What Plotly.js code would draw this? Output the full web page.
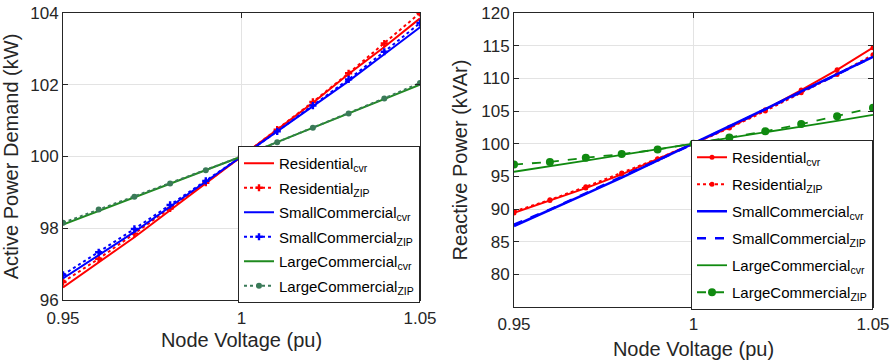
<!DOCTYPE html>
<html>
<head>
<meta charset="utf-8">
<script src="https://cdn.plot.ly/plotly-3.0.1.min.js"></script>
<style>html,body{margin:0;padding:0;background:#fff;}#chart{width:895px;height:360px;}</style>
</head>
<body>
<div id="chart"></div>
<script>
// Node voltage (pu)
const voltage = [0.95, 0.96, 0.97, 0.98, 0.99, 1.00, 1.01, 1.02, 1.03, 1.04, 1.05];

// Active power demand (kW)
const pResCvr   = [96.35, 97.05, 97.75, 98.50, 99.25, 100, 100.75, 101.50, 102.30, 103.05, 103.85];
const pResZip   = [96.50, 97.15, 97.85, 98.55, 99.27, 100, 100.75, 101.52, 102.32, 103.15, 104.00];
const pSmallCvr = [96.60, 97.25, 97.90, 98.60, 99.30, 100, 100.70, 101.40, 102.10, 102.85, 103.60];
const pSmallZip = [96.70, 97.33, 97.98, 98.65, 99.32, 100, 100.70, 101.42, 102.15, 102.92, 103.72];
const pLargeCvr = [98.10, 98.48, 98.85, 99.23, 99.60, 100, 100.40, 100.80, 101.20, 101.60, 102.00];
const pLargeZip = [98.15, 98.52, 98.88, 99.25, 99.62, 100, 100.40, 100.80, 101.20, 101.62, 102.05];

// Reactive power (kVAr)
const qResCvr   = [89.4, 91.3, 93.2, 95.3, 97.6, 100, 102.5, 105.2, 108.2, 111.3, 114.7];
const qResZip   = [89.6, 91.4, 93.4, 95.5, 97.7, 100, 102.4, 105.0, 107.8, 110.6, 113.6];
const qSmallCvr = [87.4, 89.8, 92.3, 94.8, 97.4, 100, 102.6, 105.3, 108.0, 110.6, 113.3];
const qSmallZip = [87.6, 89.9, 92.4, 94.9, 97.4, 100, 102.6, 105.2, 107.9, 110.6, 113.3];
const qLargeCvr = [95.7, 96.5, 97.4, 98.3, 99.1, 100, 100.9, 101.7, 102.6, 103.5, 104.4];
const qLargeZip = [96.8, 97.2, 97.85, 98.4, 99.1, 100, 100.95, 101.9, 103.0, 104.2, 105.5];

const names = [
  'Residential<sub>cvr</sub>', 'Residential<sub>ZIP</sub>',
  'SmallCommercial<sub>cvr</sub>', 'SmallCommercial<sub>ZIP</sub>',
  'LargeCommercial<sub>cvr</sub>', 'LargeCommercial<sub>ZIP</sub>'
];

const RED = '#ff0000', BLUE = '#0000ff', GREEN = '#1f8a1f', GRAYGREEN = '#3a7a58', DGREEN = '#108a10';
const FONT = 'Liberation Sans, Arial, Helvetica, sans-serif';
const INK = '#262626';

const traces = [
  {x: voltage, y: pResCvr, name: names[0], legendgroup: 'a1', mode: 'lines', line: {color: RED, width: 2}, xaxis: 'x', yaxis: 'y', legend: 'legend'},
  {x: voltage, y: pResZip, name: names[1], legendgroup: 'a2', mode: 'lines+markers', line: {color: RED, width: 2, dash: 'dot'}, marker: {symbol: 'cross', size: 6, color: RED}, xaxis: 'x', yaxis: 'y', legend: 'legend'},
  {x: voltage, y: pSmallCvr, name: names[2], legendgroup: 'a3', mode: 'lines', line: {color: BLUE, width: 2}, xaxis: 'x', yaxis: 'y', legend: 'legend'},
  {x: voltage, y: pSmallZip, name: names[3], legendgroup: 'a4', mode: 'lines+markers', line: {color: BLUE, width: 2, dash: 'dot'}, marker: {symbol: 'cross', size: 6, color: BLUE}, xaxis: 'x', yaxis: 'y', legend: 'legend'},
  {x: voltage, y: pLargeCvr, name: names[4], legendgroup: 'a5', mode: 'lines', line: {color: GREEN, width: 2}, xaxis: 'x', yaxis: 'y', legend: 'legend'},
  {x: voltage, y: pLargeZip, name: names[5], legendgroup: 'a6', mode: 'lines+markers', line: {color: GRAYGREEN, width: 2, dash: 'dot'}, marker: {symbol: 'circle', size: 6, color: GRAYGREEN}, xaxis: 'x', yaxis: 'y', legend: 'legend'},

  {x: voltage, y: qResCvr, name: names[0], legendgroup: 'b1', mode: 'lines+markers', line: {color: RED, width: 2}, marker: {symbol: 'circle', size: 5, color: RED}, xaxis: 'x2', yaxis: 'y2', legend: 'legend2'},
  {x: voltage, y: qResZip, name: names[1], legendgroup: 'b2', mode: 'lines+markers', line: {color: RED, width: 2, dash: 'dot'}, marker: {symbol: 'circle', size: 5, color: RED}, xaxis: 'x2', yaxis: 'y2', legend: 'legend2'},
  {x: voltage, y: qSmallCvr, name: names[2], legendgroup: 'b3', mode: 'lines', line: {color: BLUE, width: 2.5}, xaxis: 'x2', yaxis: 'y2', legend: 'legend2'},
  {x: voltage, y: qSmallZip, name: names[3], legendgroup: 'b4', mode: 'lines', line: {color: BLUE, width: 2.5, dash: 'dash'}, xaxis: 'x2', yaxis: 'y2', legend: 'legend2'},
  {x: voltage, y: qLargeCvr, name: names[4], legendgroup: 'b5', mode: 'lines', line: {color: DGREEN, width: 1.8}, xaxis: 'x2', yaxis: 'y2', legend: 'legend2'},
  {x: voltage, y: qLargeZip, name: names[5], legendgroup: 'b6', mode: 'lines+markers', line: {color: DGREEN, width: 1.8, dash: 'dash'}, marker: {symbol: 'circle', size: 8, color: DGREEN}, xaxis: 'x2', yaxis: 'y2', legend: 'legend2'}
];

const axisCommon = {
  showline: true, linecolor: INK, linewidth: 1, mirror: 'ticks',
  ticks: 'inside', ticklen: 5, tickcolor: INK,
  showgrid: true, gridcolor: '#e3e3e3', gridwidth: 1,
  zeroline: false,
  tickfont: {family: FONT, size: 17, color: INK}
};

const legendCommon = {
  bgcolor: '#ffffff', bordercolor: INK, borderwidth: 1,
  font: {family: FONT, size: 15, color: '#000'},
  xanchor: 'right', yanchor: 'top', itemwidth: 30
};

const layout = {
  width: 895, height: 360,
  margin: {l: 0, r: 0, t: 0, b: 0},
  paper_bgcolor: '#ffffff', plot_bgcolor: '#ffffff',
  font: {family: FONT, color: INK},
  xaxis: Object.assign({}, axisCommon, {
    domain: [63/895, 420/895], range: [0.95, 1.05], tickvals: [0.95, 1, 1.05], ticktext: ['0.95', '1', '1.05'],
    anchor: 'y', ticklabelstandoff: 3,
    title: {text: 'Node Voltage (pu)', font: {family: FONT, size: 20, color: INK}, standoff: 5}
  }),
  yaxis: Object.assign({}, axisCommon, {
    domain: [60/360, 347/360], range: [96, 104], tickvals: [96, 98, 100, 102, 104],
    anchor: 'x',
    title: {text: 'Active Power Demand (kW)', font: {family: FONT, size: 20, color: INK}, standoff: 6}
  }),
  xaxis2: Object.assign({}, axisCommon, {
    domain: [514/895, 873/895], range: [0.95, 1.05], tickvals: [0.95, 1, 1.05], ticktext: ['0.95', '1', '1.05'],
    anchor: 'y2', ticklabelstandoff: 2,
    title: {text: 'Node Voltage (pu)', font: {family: FONT, size: 20, color: INK}, standoff: 9}
  }),
  yaxis2: Object.assign({}, axisCommon, {
    domain: [53/360, 347/360], range: [75, 120], tickvals: [80, 85, 90, 95, 100, 105, 110, 115, 120],
    anchor: 'x2',
    title: {text: 'Reactive Power (kVAr)', font: {family: FONT, size: 20, color: INK}, standoff: 8}
  }),
  legend: Object.assign({}, legendCommon, {x: 420/895, y: (360-146)/360, tracegroupgap: 2}),
  legend2: Object.assign({}, legendCommon, {x: 873/895, y: (360-140)/360, tracegroupgap: 4.5}),
  showlegend: true
};

Plotly.newPlot('chart', traces, layout, {displayModeBar: false, staticPlot: true});
</script>
</body>
</html>
